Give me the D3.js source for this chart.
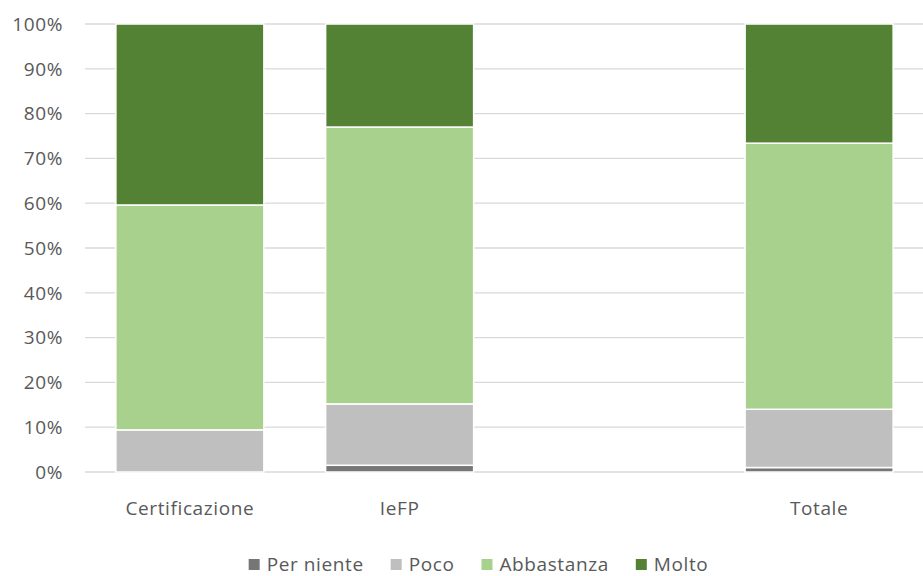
<!DOCTYPE html>
<html><head><meta charset="utf-8">
<script src="https://cdn.jsdelivr.net/npm/d3@7"></script>
<style>body{margin:0;background:#fff}svg{display:block}</style>
</head><body>
<svg id="c" width="923" height="576"></svg>
<script>
const categories = ["Certificazione", "IeFP", "", "Totale"];
const seriesNames = ["Per niente", "Poco", "Abbastanza", "Molto"];
const perNiente  = [0,    1.5, null, 1.0];
const poco       = [9.4, 13.7, null, 13.0];
const abbastanza = [50.2, 61.8, null, 59.4];
const molto      = [40.4, 23.0, null, 26.6];
const colors = ["#767676", "#bfbfbf", "#a9d18e", "#548235"];
const yTicks = [0,10,20,30,40,50,60,70,80,90,100];

const font = "'Open Sans', sans-serif";
const ls = 0.6;
const svg = d3.select("#c");
const x = d3.scaleBand().domain(d3.range(categories.length)).range([85, 924]).paddingInner(0.294).paddingOuter(0.147);
const y = d3.scaleLinear().domain([0, 100]).range([472, 24]);

// gridlines
svg.append("g").selectAll("line").data(yTicks).join("line")
  .attr("x1", 85).attr("x2", 923)
  .attr("y1", d => y(d)).attr("y2", d => y(d))
  .attr("stroke", "#d9d9d9").attr("stroke-width", 1.3);

// y labels
svg.append("g").selectAll("text").data(yTicks).join("text")
  .attr("x", 63).attr("y", d => y(d)).attr("dy", "0.36em")
  .attr("text-anchor", "end").attr("font-family", font).attr("font-size", 19)
  .attr("letter-spacing", ls)
  .attr("fill", "#595959").text(d => d + "%");

// stacked data
const rows = categories.map((c, i) => ({
  i, "Per niente": perNiente[i], "Poco": poco[i], "Abbastanza": abbastanza[i], "Molto": molto[i]
})).filter(r => r["Poco"] !== null);
const stack = d3.stack().keys(seriesNames)(rows);
const bw = 148;
svg.append("g").selectAll("g").data(stack).join("g")
  .attr("fill", (d, k) => colors[k])
  .selectAll("rect").data(d => d).join("rect")
  .attr("x", d => x(d.data.i) + x.bandwidth() / 2 - bw / 2)
  .attr("width", bw)
  .attr("y", d => y(d[1]))
  .attr("height", d => Math.max(0, y(d[0]) - y(d[1])))
  .attr("stroke", "#fff").attr("stroke-width", 1.5);

// x labels
svg.append("g").selectAll("text").data(categories).join("text")
  .attr("x", (d, i) => x(i) + x.bandwidth() / 2).attr("y", 515)
  .attr("text-anchor", "middle").attr("font-family", font).attr("font-size", 19)
  .attr("letter-spacing", ls)
  .attr("fill", "#595959").text(d => d);

// legend
const lg = svg.append("g");
let cx = 0;
seriesNames.forEach((n, k) => {
  const g = lg.append("g").attr("transform", `translate(${cx},0)`);
  g.append("rect").attr("x", 0).attr("y", -5).attr("width", 11).attr("height", 11).attr("fill", colors[k]);
  const t = g.append("text").attr("x", 18).attr("y", 0).attr("dy", "0.36em")
    .attr("font-family", font).attr("font-size", 19).attr("letter-spacing", ls)
    .attr("fill", "#595959").text(n);
  cx += 18 + t.node().getComputedTextLength() + 27;
});
const totalW = cx - 27;
lg.attr("transform", `translate(${478.5 - totalW / 2},564)`);
</script>
</body></html>
